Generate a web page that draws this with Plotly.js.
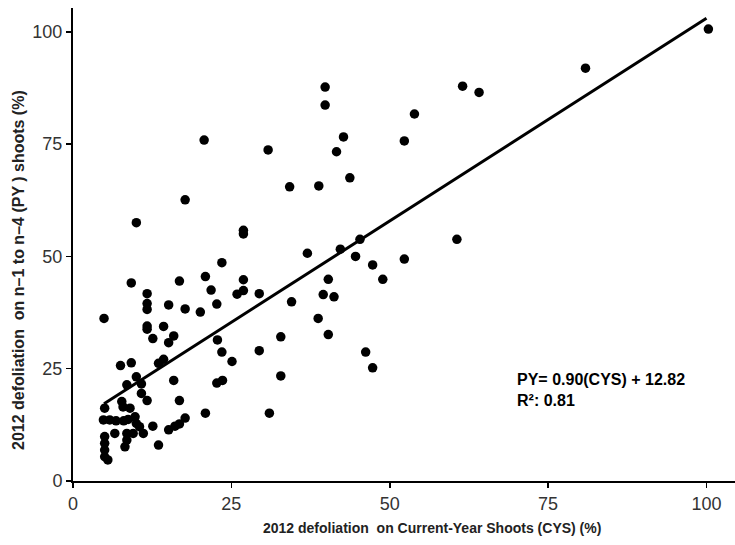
<!DOCTYPE html>
<html>
<head>
<meta charset="utf-8">
<script src="https://cdn.plot.ly/plotly-3.0.1.min.js"></script>
<style>html,body{margin:0;padding:0;background:#fff;}#chart{width:735px;height:545px;}</style>
</head>
<body>
<div id="chart"></div>
<script>
// Current-Year Shoots defoliation (%)
const cys = [
  100.3, 80.9, 61.5, 64.1, 53.9, 52.3, 60.6, 47.3, 48.9, 52.3,
  46.2, 47.3, 45.3, 37.0, 42.2, 44.6, 23.5, 20.9, 26.9, 21.8,
  25.9, 26.9, 29.4, 22.7, 20.1, 34.5, 40.3, 39.5, 41.2, 38.7,
  40.3, 32.8, 22.8, 23.5, 25.1, 29.4, 22.7, 23.6, 32.8, 20.9,
  31.0, 26.9, 26.9, 17.7, 10.0, 9.2, 16.8, 11.7, 11.7, 11.7,
  15.1, 17.7, 4.9, 11.7, 11.7, 14.3, 12.6, 15.1, 15.9, 7.5,
  9.2, 13.5, 14.3, 10.0, 8.5, 10.8, 15.9, 20.7, 30.8, 34.2,
  38.8, 39.8, 39.8, 43.7, 42.7, 41.6, 5.0, 7.7, 7.9, 9.0,
  10.8, 11.7, 16.8, 17.7, 16.8, 16.1, 15.1, 12.6, 13.5, 4.8,
  5.8, 6.8, 8.0, 8.7, 9.8, 10.0, 10.5, 11.1, 6.6, 8.5,
  9.5, 8.5, 8.2, 5.0, 5.0, 5.0, 5.0, 5.5
];
// Previous-years (n-1 to n-4) shoots defoliation (%)
const py = [
  100.6, 91.9, 87.9, 86.5, 81.7, 75.7, 53.8, 48.1, 44.9, 49.4,
  28.7, 25.2, 53.8, 50.7, 51.6, 50.0, 48.6, 45.5, 44.8, 42.5,
  41.6, 42.4, 41.7, 39.4, 37.6, 39.9, 44.9, 41.5, 41.0, 36.2,
  32.6, 32.1, 31.4, 28.7, 26.6, 29.0, 21.8, 22.4, 23.4, 15.1,
  15.1, 55.8, 55.0, 62.6, 57.5, 44.1, 44.5, 41.7, 39.5, 38.2,
  39.2, 38.3, 36.2, 34.5, 33.8, 34.4, 31.7, 30.8, 32.3, 25.7,
  26.3, 26.2, 27.1, 23.2, 21.4, 21.6, 22.4, 75.9, 73.7, 65.5,
  65.7, 87.7, 83.7, 67.5, 76.6, 73.3, 16.2, 17.7, 16.5, 16.2,
  19.5, 17.9, 17.9, 14.0, 12.7, 12.2, 11.4, 12.2, 8.0, 13.6,
  13.6, 13.4, 13.4, 13.7, 14.3, 12.8, 12.1, 10.6, 10.6, 10.6,
  10.6, 9.1, 7.6, 9.9, 8.4, 6.9, 5.4, 4.7
];
// Fitted regression line end points (PY = 0.90 CYS + 12.82)
const fitX = [4.9, 100.0];
const fitY = [17.2, 103.0];
const tickVals = [0, 25, 50, 75, 100];
const tickText = ["0", "25", "50", "75", "100"];
const xTitle = "2012 defoliation  on Current-Year Shoots (CYS) (%)";
const yTitle = "2012 defoliation  on n–1 to n–4 (PY ) shoots (%)";
const eqLines = ["PY= 0.90(CYS) + 12.82", "R²: 0.81"];

const FONT = 'Liberation Sans, Arial, sans-serif';

const traces = [
  {x: cys, y: py, type: 'scatter', mode: 'markers',
   marker: {color: '#000', size: 9.5}, hoverinfo: 'skip', cliponaxis: false},
  {x: fitX, y: fitY, type: 'scatter', mode: 'lines',
   line: {color: '#000', width: 3}, hoverinfo: 'skip'}
];

const axisCommon = {
  showgrid: false, zeroline: false, showline: true, linecolor: '#000', linewidth: 2,
  ticks: 'outside', ticklen: 5, tickwidth: 1.5, tickcolor: '#000',
  tickvals: tickVals, ticktext: tickText,
  tickfont: {family: FONT, size: 18, color: '#333'}
};

const ML = 73, MR = 0, MT = 8, MB = 64;
const plotW = 735 - ML - MR, plotH = 545 - MT - MB;

const layout = {
  width: 735, height: 545,
  margin: {l: ML, r: MR, t: MT, b: MB},
  paper_bgcolor: '#fff', plot_bgcolor: '#fff',
  showlegend: false,
  xaxis: Object.assign({}, axisCommon, {range: [0, 104.5]}),
  yaxis: Object.assign({}, axisCommon, {range: [0, 105.3]}),
  annotations: [
    {x: (432 - ML) / plotW, y: (545 - MB - 528) / plotH, xref: 'paper', yref: 'paper',
     xanchor: 'center', yanchor: 'middle', showarrow: false,
     text: '<b>' + xTitle + '</b>', font: {family: FONT, size: 14, color: '#222'}},
    {x: (18 - ML) / plotW, y: (545 - MB - 270) / plotH, xref: 'paper', yref: 'paper',
     xanchor: 'center', yanchor: 'middle', showarrow: false, textangle: -90,
     text: '<b>' + yTitle + '</b>', font: {family: FONT, size: 16, color: '#222'}},
    {x: 69.8, y: 22.7, xref: 'x', yref: 'y', xanchor: 'left', yanchor: 'middle', showarrow: false,
     text: '<b>' + eqLines[0] + '</b>', font: {family: FONT, size: 16, color: '#000'}},
    {x: 69.8, y: 17.9, xref: 'x', yref: 'y', xanchor: 'left', yanchor: 'middle', showarrow: false,
     text: '<b>' + eqLines[1] + '</b>', font: {family: FONT, size: 16, color: '#000'}}
  ]
};

Plotly.newPlot('chart', traces, layout, {staticPlot: true, displayModeBar: false});
</script>
</body>
</html>
